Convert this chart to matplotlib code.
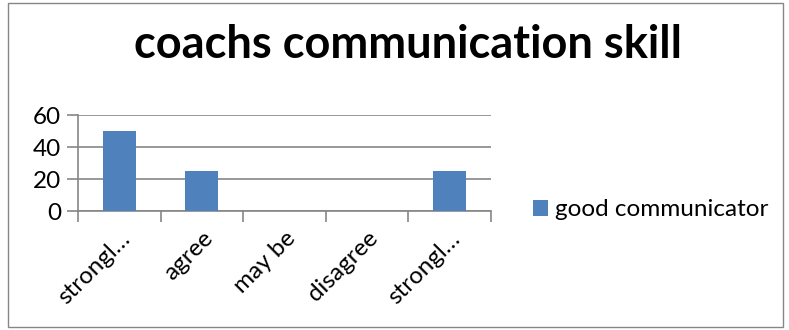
import matplotlib
matplotlib.use("Agg")
import matplotlib.pyplot as plt
from matplotlib.patches import Rectangle

categories = ["strongl…", "agree", "may be", "disagree", "strongl…"]
values = [50, 25, 0, 0, 25]
series_name = "good communicator"
title = "coachs communication skill"
yticks = [0, 20, 40, 60]

W, H, DPI = 789, 330, 100
fig = plt.figure(figsize=(W / DPI, H / DPI), dpi=DPI)
plt.rcParams['font.family'] = ['Lato', 'DejaVu Sans']

# outer chart border
fig.patches.append(Rectangle((8 / W, 3 / H), 775 / W, 324 / H, transform=fig.transFigure,
                             fill=False, edgecolor="#868686", linewidth=1.0))

ax = fig.add_axes([78 / W, 1 - 211 / H, (491 - 78) / W, (211 - 115) / H])
x = range(len(categories))
ax.bar(x, values, width=0.4, color="#4F81BD", label=series_name, zorder=3)
ax.set_xlim(-0.5, len(categories) - 0.5)
ax.set_ylim(0, 60)
ax.set_yticks(yticks)
ax.set_yticklabels([str(v) for v in yticks], fontsize=17.5)
ax.yaxis.grid(True, color="#868686", linewidth=1.2, zorder=0)
ax.set_xticks([i - 0.5 for i in range(len(categories) + 1)])
ax.set_xticklabels([])
ax.set_xticks(list(x), minor=True)
ax.set_xticklabels(categories, minor=True, rotation=45, ha="right", rotation_mode="anchor", fontsize=17.5)
ax.tick_params(axis="x", which="major", length=8, color="#868686", width=1.2)
ax.tick_params(axis="x", which="minor", length=0, pad=12)
ax.tick_params(axis="y", length=8, color="#868686", width=1.2, pad=4)
for s in ["top", "right"]:
    ax.spines[s].set_visible(False)
for s in ["left", "bottom"]:
    ax.spines[s].set_color("#868686")
    ax.spines[s].set_linewidth(1.2)

fig.text(408 / W, 1 - 45 / H, title, fontsize=32.5, fontweight="bold", ha="center", va="center")

handles, labels = ax.get_legend_handles_labels()
fig.legend(handles, labels, loc="center left", bbox_to_anchor=(533 / W, 1 - 210 / H),
           frameon=False, fontsize=17.5, handlelength=0.6, handleheight=0.6, handletextpad=0.3,
           borderpad=0, borderaxespad=0)

fig.savefig("out.png", dpi=DPI)
